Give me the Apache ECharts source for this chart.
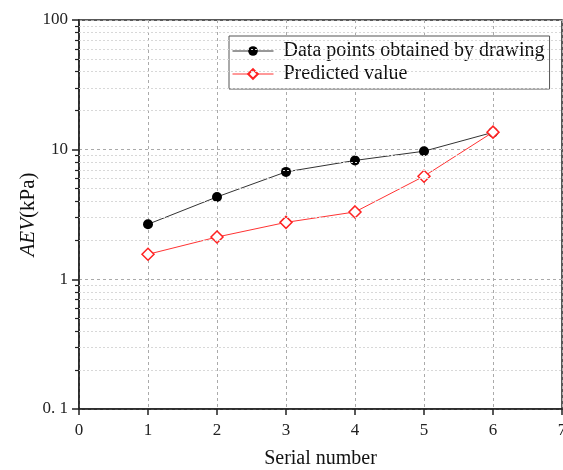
<!DOCTYPE html>
<html>
<head>
<meta charset="utf-8">
<script src="https://cdn.jsdelivr.net/npm/echarts@6/dist/echarts.min.js"></script>
<style>
html,body{margin:0;padding:0;background:#fff;}
#chart{width:563px;height:470px;}
</style>
</head>
<body>
<div id="chart"></div>
<script>
// Serial numbers along the x axis
const serialNumbers = [1, 2, 3, 4, 5, 6];
// AEV values (kPa)
const drawnValues = [2.66, 4.32, 6.74, 8.26, 9.73, 13.6];
// AEV values (kPa) predicted by the model
const predictedValues = [1.56, 2.12, 2.75, 3.31, 6.24, 13.65];
// Minor grid levels on the log axis
const minorLevels = [0.2,0.3,0.4,0.5,0.6,0.7,0.8,0.9,2,3,4,5,6,7,8,9,20,30,40,50,60,70,80,90];

const serif = '"Liberation Serif", "DejaVu Serif", serif';

const chart = echarts.init(document.getElementById('chart'), null, {renderer: 'canvas'});

const pairs = (ys) => serialNumbers.map((x, i) => [x, ys[i]]);

chart.setOption({
  animation: false,
  backgroundColor: '#fff',
  textStyle: {fontFamily: serif},
  grid: {left: 79, right: 1, top: 20, bottom: 61, containLabel: false, outerBoundsMode: 'none',
    show: true, borderColor: '#222', borderWidth: 1.5},
  legend: {
    left: 229, top: 36,
    orient: 'vertical',
    backgroundColor: '#fff',
    borderColor: '#555', borderWidth: 1,
    padding: [5, 5, 5, 3],
    itemGap: 3,
    itemWidth: 41, itemHeight: 12,
    textStyle: {fontFamily: serif, fontSize: 20, color: '#111', padding: [0, 0, 0, 5]},
    data: [
      {name: 'Data points obtained by drawing',
        lineStyle: {color: '#333', width: 1, type: 'solid'}},
      {name: 'Predicted value',
        lineStyle: {color: '#ff3333', width: 1, type: 'solid'}}
    ]
  },
  xAxis: {
    type: 'value', min: 0, max: 7, interval: 1,
    name: 'Serial number', nameLocation: 'middle', nameGap: 40, nameMoveOverlap: false,
    nameTextStyle: {fontFamily: serif, fontSize: 20, color: '#111'},
    axisLine: {lineStyle: {color: '#222', width: 1.5}},
    axisTick: {inside: false, length: 6, lineStyle: {color: '#222', width: 1.5}},
    axisLabel: {fontFamily: serif, fontSize: 17, color: '#222', margin: 13},
    splitLine: {show: true, lineStyle: {color: '#aaa', type: [3, 3], width: 1}}
  },
  yAxis: [
    {
      type: 'log', logBase: 10, min: 0.1, max: 100,
      name: '{i|AEV}(kPa)', nameLocation: 'middle', nameGap: 40, nameMoveOverlap: false,
      nameTextStyle: {fontFamily: serif, fontSize: 21, color: '#111',
        rich: {i: {fontFamily: serif, fontSize: 21, fontStyle: 'italic', color: '#111'}}},
      axisLine: {lineStyle: {color: '#222', width: 1.5}},
      axisTick: {inside: false, length: 7, lineStyle: {color: '#222', width: 1.5}},
      axisLabel: {fontFamily: serif, fontSize: 17, color: '#222', margin: 11,
        formatter: (v) => v < 1 ? '0. 1' : String(Math.round(v))},
      splitLine: {show: true, lineStyle: {color: '#aaa', type: [3, 3], width: 1}},
      minorTick: {show: false},
      minorSplitLine: {show: false}
    },
    {
      // companion axis carrying the minor ticks between decades
      type: 'log', logBase: 10, min: 0.1, max: 100, position: 'left', offset: 0,
      axisLine: {show: false},
      axisTick: {show: true, inside: false, length: 4, customValues: minorLevels,
        lineStyle: {color: '#222', width: 1.2}},
      axisLabel: {show: false},
      splitLine: {show: false}
    }
  ],
  series: [
    {
      name: 'Data points obtained by drawing',
      type: 'line',
      data: pairs(drawnValues),
      symbol: 'circle', symbolSize: 10,
      lineStyle: {color: '#333', width: 1},
      itemStyle: {color: '#000', borderColor: '#000', borderWidth: 0},
      z: 3,
      markLine: {
        silent: true, symbol: 'none', label: {show: false},
        lineStyle: {color: '#d8d8d8', type: [2, 2], width: 1},
        data: minorLevels.map(v => ({yAxis: v}))
      }
    },
    {
      name: 'Predicted value',
      type: 'line',
      data: pairs(predictedValues),
      symbol: 'diamond', symbolSize: 12,
      lineStyle: {color: '#ff3333', width: 1},
      itemStyle: {color: '#fff', borderColor: '#ff2222', borderWidth: 1.5},
      z: 4
    }
  ]
});
</script>
</body>
</html>
